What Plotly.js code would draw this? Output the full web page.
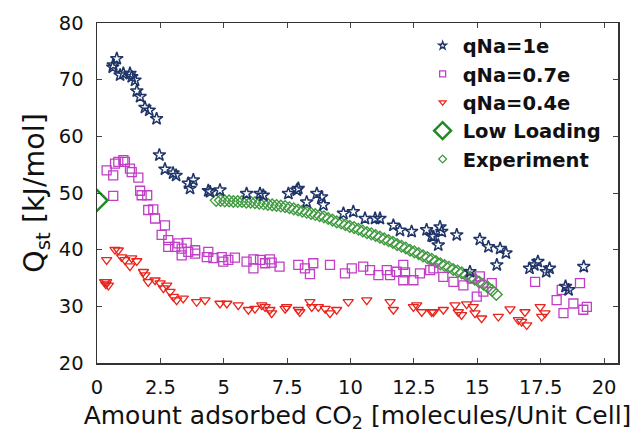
<!DOCTYPE html>
<html>
<head>
<meta charset="utf-8">
<script src="https://cdn.plot.ly/plotly-3.0.1.min.js"></script>
<style>html,body{margin:0;padding:0;background:#fff;}#chart{width:633px;height:437px;}</style>
</head>
<body>
<div id="chart"></div>
<script>
// qNa = 1e (stars)
var q1X = [0.62,0.64,0.78,0.91,1.04,1.30,1.37,1.50,1.57,1.70,1.89,2.06,2.35,2.46,2.68,3.00,3.12,3.60,3.67,3.80,4.39,4.46,4.85,5.90,6.43,6.56,7.55,7.88,7.94,8.27,8.67,8.86,8.93,9.72,10.11,10.57,10.97,11.16,11.69,11.95,12.41,13.00,13.20,13.27,13.46,13.53,13.60,14.19,14.71,15.10,15.44,15.77,15.90,16.13,17.06,17.25,17.39,17.72,17.85,18.48,18.60,19.20];
var q1Y = [72.2,72.6,73.7,70.8,71.1,71.1,70.5,69.9,68.0,67.0,65.1,64.6,63.1,56.7,54.2,53.5,53.1,51.7,50.8,52.3,50.4,50.2,50.5,49.9,49.9,49.6,49.9,50.5,50.8,48.4,49.9,49.3,47.9,46.4,46.7,45.5,45.5,45.5,44.3,43.4,43.2,43.5,42.4,42.3,40.8,44.0,43.2,42.6,36.1,41.8,40.5,37.3,40.2,39.4,36.7,37.3,37.9,36.1,36.7,33.5,32.9,37.0];

// qNa = 0.7e (squares)
var q07X = [0.38,0.64,0.71,0.84,1.04,1.10,1.30,1.37,1.63,0.64,1.70,1.76,1.98,2.02,2.22,2.29,2.68,2.55,2.81,2.81,3.08,3.21,3.34,3.54,3.34,3.60,3.87,3.87,4.39,4.33,4.59,4.92,4.98,5.18,5.44,5.90,6.17,6.17,6.43,6.63,6.82,6.89,7.20,7.94,8.20,8.40,8.53,9.19,9.78,10.05,10.50,10.77,11.10,11.43,11.56,11.82,12.08,12.15,12.08,12.48,12.74,13.14,13.27,13.66,14.06,14.45,14.78,15.10,14.98,15.24,15.57,17.28,18.13,18.33,18.40,18.79,19.05,19.18,19.32];
var q07Y = [54.0,53.1,55.2,55.5,55.8,55.5,54.3,53.7,52.7,49.5,50.4,49.6,49.6,47.0,47.1,45.5,44.3,42.6,41.7,40.5,40.5,41.1,40.2,41.2,39.0,39.6,39.9,39.3,39.6,38.7,38.5,38.7,37.9,38.2,38.6,37.9,38.3,36.7,38.2,37.6,38.3,37.7,37.0,37.3,36.7,35.7,37.6,37.3,35.8,36.7,37.0,36.4,35.5,36.4,35.5,36.1,37.3,36.0,34.6,34.6,35.8,36.4,36.7,35.2,34.3,33.7,34.9,35.3,31.7,32.6,34.1,34.3,31.1,32.9,28.8,30.5,34.1,29.4,29.9];

// qNa = 0.4e (triangles)
var q04X = [0.30,0.38,0.45,0.35,0.38,0.71,0.84,0.97,1.10,1.37,1.57,1.30,1.83,1.89,2.02,2.29,2.49,2.62,2.75,2.88,3.01,3.14,3.40,3.93,4.26,4.85,5.12,5.57,5.97,6.23,6.50,6.63,6.82,6.89,7.42,7.48,7.94,8.00,8.40,8.47,8.73,9.00,9.19,9.45,9.91,10.64,11.56,11.69,12.48,12.61,12.81,13.20,13.66,13.27,14.12,14.25,14.38,14.58,14.84,14.91,15.17,15.83,16.29,16.62,16.75,16.95,16.88,17.48,17.54,17.67];
var q04Y = [34.3,34.3,33.7,33.9,38.2,40.0,39.9,38.7,38.2,38.5,38.0,37.1,36.1,35.5,34.3,34.6,34.1,33.2,33.7,32.6,31.7,31.1,31.4,30.8,31.1,30.5,30.5,30.2,29.4,29.6,30.2,29.9,29.4,28.8,29.6,29.9,29.4,29.0,30.8,29.9,29.9,29.6,28.8,29.4,30.8,31.1,30.8,29.4,29.9,30.2,29.0,29.0,29.4,29.0,30.2,29.0,28.5,30.4,29.9,28.8,27.9,28.2,29.5,27.6,27.3,26.7,29.0,29.9,28.2,28.8];

// Low loading
var lowX = [0];
var lowY = [48.7];

// Experiment
var expX = [4.70,4.87,5.04,5.21,5.38,5.55,5.72,5.89,6.06,6.23,6.40,6.57,6.74,6.91,7.08,7.25,7.42,7.59,7.76,7.93,8.10,8.27,8.44,8.61,8.78,8.95,9.12,9.29,9.46,9.63,9.80,9.97,10.14,10.31,10.48,10.65,10.82,10.99,11.16,11.33,11.50,11.67,11.84,12.01,12.18,12.35,12.52,12.69,12.86,13.03,13.20,13.37,13.54,13.71,13.88,14.05,14.22,14.39,14.56,14.73,14.90,15.07,15.24,15.41,15.58,15.75];
var expY = [48.7,48.7,48.6,48.6,48.5,48.5,48.5,48.4,48.4,48.3,48.2,48.1,48.0,47.9,47.8,47.7,47.6,47.4,47.2,47.0,46.8,46.6,46.4,46.2,46.0,45.8,45.5,45.2,44.9,44.7,44.4,44.1,43.9,43.6,43.3,43.0,42.8,42.5,42.2,41.9,41.6,41.3,40.9,40.6,40.3,39.9,39.6,39.3,38.9,38.6,38.3,37.9,37.5,37.2,36.9,36.5,36.2,35.9,35.5,35.1,34.8,34.3,33.9,33.4,32.8,32.1];

var seriesNames = ['qNa=1e','qNa=0.7e','qNa=0.4e','Low Loading','Experiment'];
var xTickVals = [0,2.5,5,7.5,10,12.5,15,17.5,20];
var xTickText = ['0','2.5','5','7.5','10','12.5','15','17.5','20'];
var yTickVals = [20,30,40,50,60,70,80];
var yTickText = ['20','30','40','50','60','70','80'];

var cStar = '#1f3468', cSq = '#c03fc6', cTri = '#e8241c', cLow = '#1f8a22', cExp = '#3f9a3f';

function sc(x, y, sym, color, size, lw, name, show, group) {
  return {type:'scatter', mode:'markers', x:x, y:y, name:name, showlegend:show, legendgroup:group,
    hoverinfo:'skip',
    marker:{symbol:sym, color:color, size:size, line:{color:color, width:lw}}};
}

var traces = [
  sc(expX, expY, 'diamond-open', cExp, 9, 1.4, seriesNames[4], false, 'e'),
  sc(q07X, q07Y, 'square-open', cSq, 9, 1.3, seriesNames[1], false, 'b'),
  sc(q04X, q04Y, 'triangle-down-open', cTri, 9, 1.3, seriesNames[2], false, 'c'),
  sc(q1X, q1Y, 'star-open', cStar, 9.5, 1.5, seriesNames[0], false, 'a'),
  sc(lowX, lowY, 'diamond-open', cLow, 16, 2.5, seriesNames[3], false, 'd'),
  // legend entries
  sc([null], [null], 'star-open', cStar, 6, 1.3, seriesNames[0], true, 'a'),
  sc([null], [null], 'square-open', cSq, 6, 1.3, seriesNames[1], true, 'b'),
  sc([null], [null], 'triangle-down-open', cTri, 6, 1.3, seriesNames[2], true, 'c'),
  sc([null], [null], 'diamond-open', cLow, 13, 2.5, seriesNames[3], true, 'd'),
  sc([null], [null], 'diamond-open', cExp, 6, 1.3, seriesNames[4], true, 'e')
];

var layout = {
  width:633, height:437,
  margin:{l:97, r:15, t:23, b:74},
  paper_bgcolor:'#fff', plot_bgcolor:'#fff',
  font:{family:'DejaVu Sans', color:'#111'},
  showlegend:true,
  legend:{x:0.625, y:0.99, xanchor:'left', yanchor:'top', bgcolor:'rgba(255,255,255,0)',
    font:{family:'DejaVu Sans', size:19.5, color:'#111', weight:'bold'},
    traceorder:'grouped', tracegroupgap:0, itemsizing:'trace'},
  xaxis:{range:[0,20.55], tickvals:xTickVals, ticktext:xTickText, ticks:'inside', ticklen:5,
    tickcolor:'#444', showline:true, linecolor:'#333', linewidth:1.5, mirror:'ticks',
    showgrid:false, zeroline:false, tickfont:{size:19.5, family:'DejaVu Sans'},
    ticklabelstandoff:6,
    title:{text:'Amount adsorbed CO<sub>2</sub> [molecules/Unit Cell]', font:{size:25, family:'DejaVu Sans'}, standoff:8}},
  yaxis:{range:[20,80], tickvals:yTickVals, ticktext:yTickText, ticks:'inside', ticklen:5,
    tickcolor:'#444', showline:true, linecolor:'#333', linewidth:1.5, mirror:'ticks',
    showgrid:false, zeroline:false, tickfont:{size:19.5, family:'DejaVu Sans'},
    ticklabelstandoff:8,
    title:{text:'Q<sub>st</sub> [kJ/mol]', font:{size:28.5, family:'DejaVu Sans'}, standoff:6}}
};

Plotly.newPlot('chart', traces, layout, {staticPlot:true, displayModeBar:false});
</script>
</body>
</html>
